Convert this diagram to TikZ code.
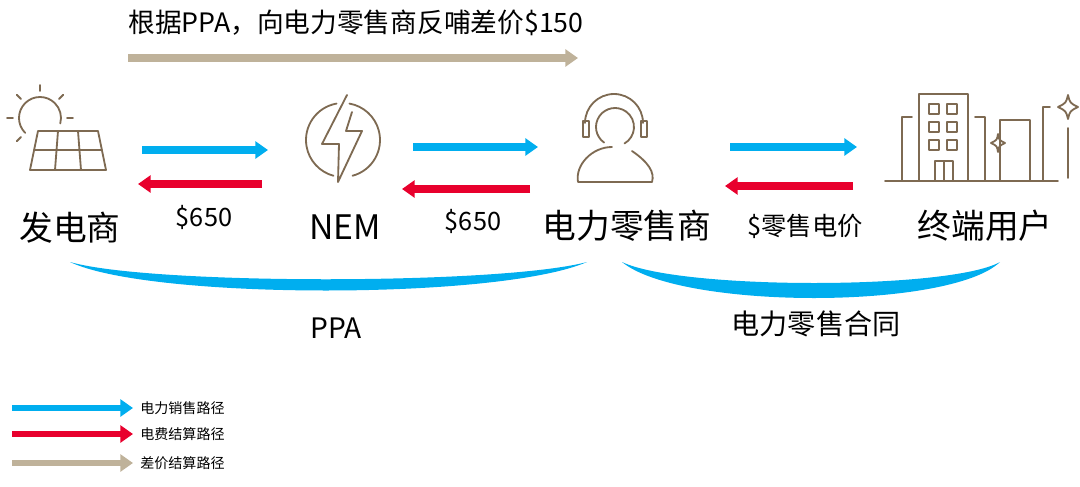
\documentclass[tikz,border=0pt]{standalone}
\usepackage{fontspec}
\setmainfont{Noto Sans CJK SC}
\usetikzlibrary{arrows.meta,positioning,calc}
\definecolor{ColorSell}{HTML}{00AEEF}
\definecolor{ColorPay}{HTML}{E8002D}
\definecolor{ColorDiff}{HTML}{BFB29A}
\definecolor{ColorIcon}{HTML}{7E6A52}

\begin{document}
\begin{tikzpicture}[x=0.025cm,y=-0.025cm,
flow/.style={
	-{Triangle[length=9pt,width=12pt]},
	line width=6pt},
sell/.style={flow, color = ColorSell},
pay/.style={flow, color = ColorPay},
diff/.style={flow, line width=5pt, color = ColorDiff},
party/.style={
	font=\fontsize{24}{26}\selectfont,
	inner sep=0pt},
price/.style={
	font=\fontsize{18}{20}\selectfont,
	inner sep=0pt},
legend/.style={
	font=\fontsize{10}{12}\selectfont,
	anchor=west,
	inner sep=0pt},
icon/.style={
	draw = ColorIcon,
	line width=1.3pt,
	line cap=round,
	line join=round}]

\useasboundingbox (0,0) rectangle (1080,487);

%Parties
\node[party] (Gen) at (70,228){发电商};
\node[party] (NEM) at (345,227){NEM};
\node[party] (Ret) at (627,226){电力零售商};
\node[party] (User) at (985,226){终端用户};

%Flows
\coordinate (s1a) at (142,150); \coordinate (s1b) at (268,150);
\coordinate (s2a) at (413,147); \coordinate (s2b) at (538,147);
\coordinate (s3a) at (730,147); \coordinate (s3b) at (857,147);
\coordinate (p1a) at (262,184); \coordinate (p1b) at (138,184);
\coordinate (p2a) at (530,189); \coordinate (p2b) at (402,189);
\coordinate (p3a) at (853,186); \coordinate (p3b) at (725,186);
\draw[sell] (s1a) -- (s1b);
\draw[sell] (s2a) -- (s2b);
\draw[sell] (s3a) -- (s3b);
\draw[pay] (p1a) -- (p1b);
\draw[pay] (p2a) -- (p2b);
\draw[pay] (p3a) -- (p3b);

\node[price] (P1) at (204,217){\$650};
\node[price] (P2) at (473,221){\$650};
\node[price] (P3) at (805,226){\$零售电价};

%Difference
\coordinate (d1) at (128,58); \coordinate (d2) at (578,58);
\draw[diff] (d1) -- (d2);
\node[price, font=\fontsize{19}{21}\selectfont, anchor=west] (Diff) at (128,23){根据PPA，向电力零售商反哺差价\$150};

%Contracts
\fill[ColorSell] (70,262) .. controls (150,300) and (500,300) .. (587,262)
	.. controls (500,285) and (150,285) .. cycle;
\fill[ColorSell] (622,262) .. controls (680,310) and (950,310) .. (1000,262)
	.. controls (950,290) and (680,290) .. cycle;
\node[price, font=\fontsize{20}{22}\selectfont] (PPA) at (336,328){PPA};
\node[price, font=\fontsize{20}{22}\selectfont] (Con) at (816,324){电力零售合同};

%Icons
\draw[icon] ($(40,118)+(-225:21)$) arc (-225:15:21);
\foreach \a in {-90,-45,0,-135,180,-225}{
	\draw[icon] ($(40,118)+(\a:27)$) -- ($(40,118)+(\a:33)$);
}
\draw[icon] (38,131) -- (98,131) -- (106,170) -- (30,170) -- cycle;
\draw[icon] (34,150) -- (102,150);
\draw[icon] (58,131) -- (55,170);
\draw[icon] (78,131) -- (81,170);

\draw[icon] ($(343,140)+(-100:37)$) arc (-100:-255:37);
\draw[icon] ($(343,140)+(75:37)$) arc (75:-80:37);
\draw[icon] (347,95) -- (322,144) -- (339,144) -- (338,182) -- (362,131) -- (346,131) -- (352,112);

\draw[icon] ($(615,127)+(-235:19)$) arc (-235:60:19);
\draw[icon] (585,123) arc (-180:0:29);
\draw[icon] (583,121) rectangle (589,137);
\draw[icon] (641,121) rectangle (647,137);
\draw[icon] (632,151) .. controls (648,162) and (655,172) .. (652,182) -- (578,182)
	.. controls (575,165) and (592,147) .. (612,147);

\draw[icon] (885,181) -- (1058,181);
\draw[icon] (919,181) -- (919,94) -- (968,94) -- (968,181);
\draw[icon] (902,181) -- (902,117) -- (912,117);
\draw[icon] (975,117) -- (985,117) -- (985,181);
\draw[icon] (1000,181) -- (1000,120) -- (1030,120) -- (1030,181);
\draw[icon] (1043,181) -- (1043,107) -- (1050,107);
\foreach \r in {104,122,140}{
	\draw[icon] (929,\r) rectangle +(10,10);
	\draw[icon] (947,\r) rectangle +(10,10);
}
\draw[icon] (935,181) -- (935,161) -- (953,161) -- (953,181);
\draw[icon] (944,161) -- (944,181);
\draw[icon] (1068,95) .. controls (1070,103) .. (1078,107) .. controls (1070,111) .. (1068,119)
	.. controls (1066,111) .. (1058,107) .. controls (1066,103) .. cycle;
\draw[icon] (998,134) .. controls (999,140) .. (1005,143) .. controls (999,146) .. (998,152)
	.. controls (997,146) .. (991,143) .. controls (997,140) .. cycle;
\draw[icon] (1068,128) -- (1068,178);

%Legend
\coordinate (l1a) at (12,408); \coordinate (l1b) at (133,408);
\coordinate (l2a) at (12,434); \coordinate (l2b) at (133,434);
\coordinate (l3a) at (12,463); \coordinate (l3b) at (133,463);
\draw[sell, line width=4pt] (l1a) -- (l1b);
\draw[pay, line width=4pt] (l2a) -- (l2b);
\draw[diff, line width=4pt] (l3a) -- (l3b);
\node[legend] (L1) at (140,408){电力销售路径};
\node[legend] (L2) at (140,434){电费结算路径};
\node[legend] (L3) at (140,463){差价结算路径};
\end{tikzpicture}
\end{document}
